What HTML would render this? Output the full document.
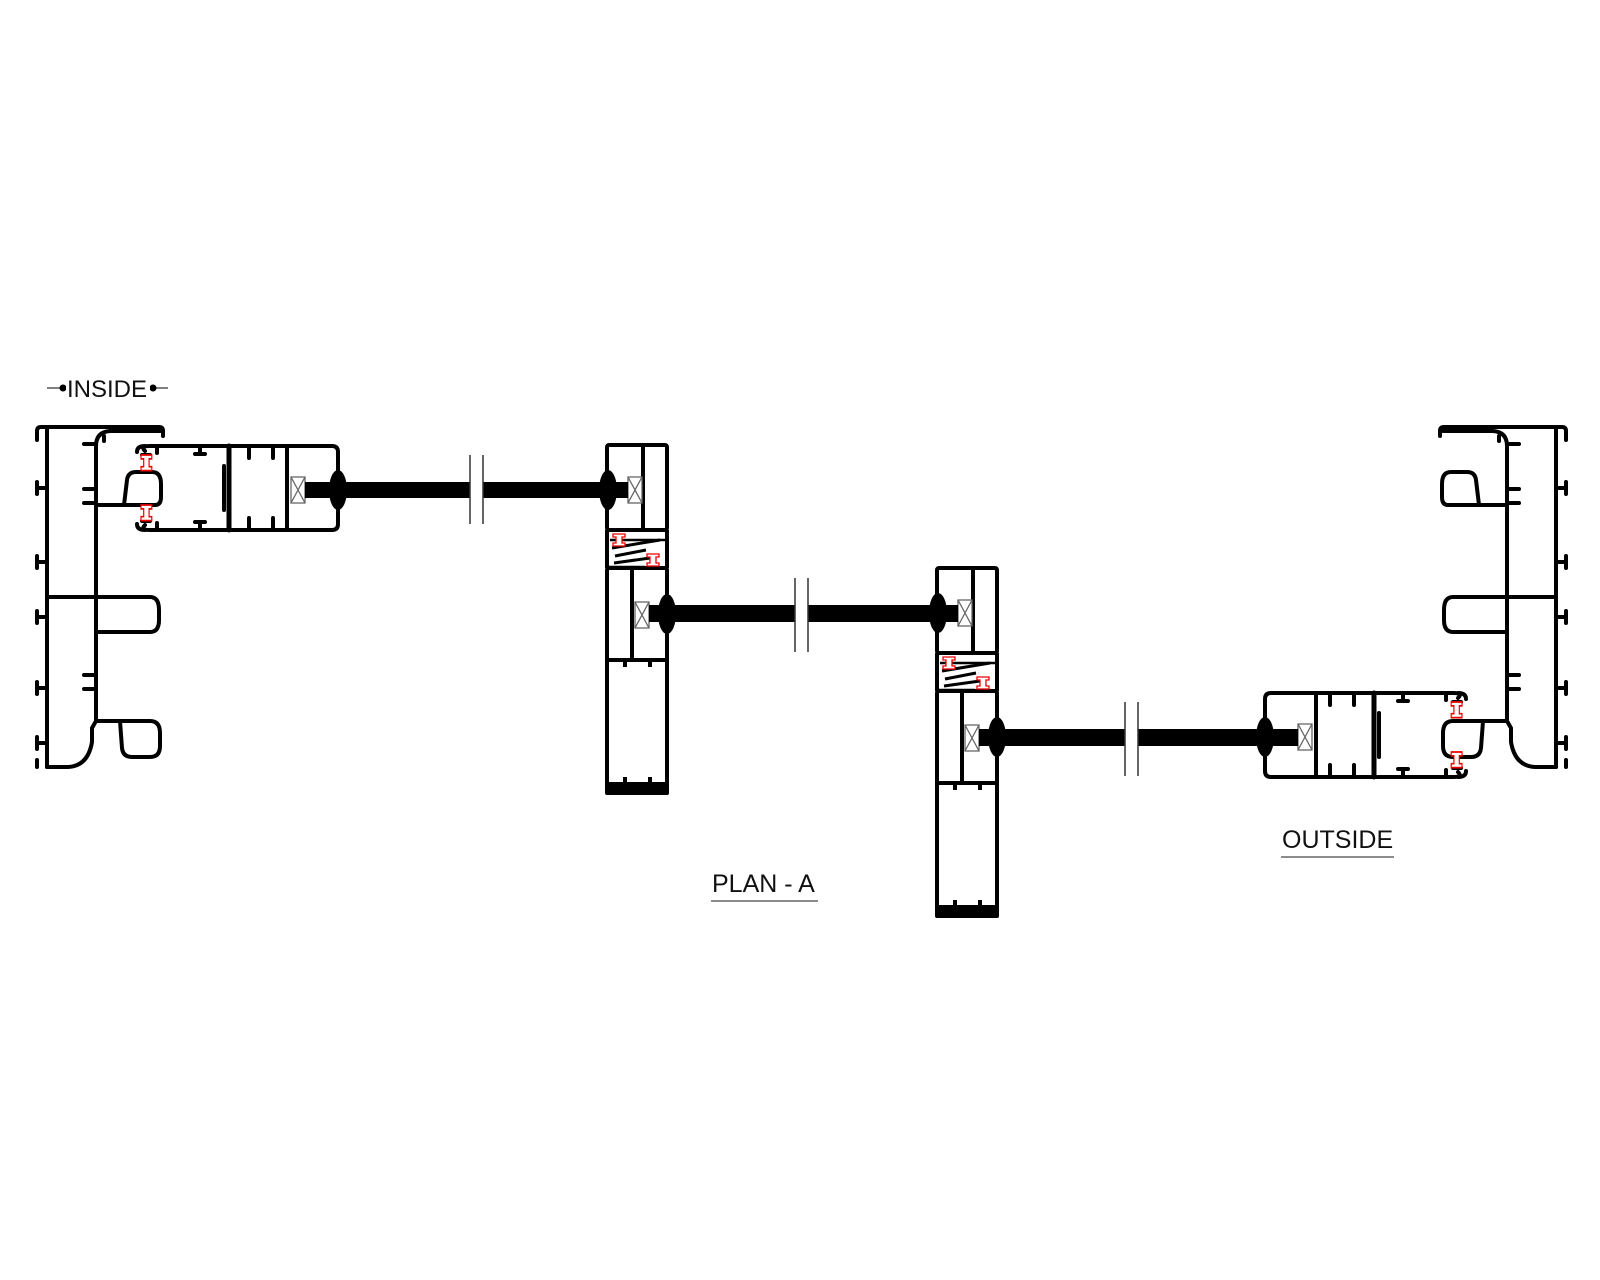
<!DOCTYPE html>
<html><head><meta charset="utf-8"><style>
html,body{margin:0;padding:0;background:#fff;}
svg{display:block;}
text{font-family:"Liberation Sans","DejaVu Sans",sans-serif;fill:#111;}
</style></head><body>
<svg width="1600" height="1280" viewBox="0 0 1600 1280" xmlns="http://www.w3.org/2000/svg">
<defs>
<g id="frame" fill="none" stroke="#000" stroke-width="4" stroke-linejoin="round" stroke-linecap="round">
  <line x1="47" y1="428" x2="47" y2="767"/>
  <path d="M37 440 L37 431 Q37 427 41 427 L159 427 Q163 427 163 431 L163 436"/>
  <path d="M104 441 L104 436"/>
  <path d="M96 720 L96 446 Q96 432 110 431 L160 431"/>
  <path d="M37 482 L37 494 M37 488 L47 488"/>
  <path d="M37 556 L37 568 M37 562 L47 562"/>
  <path d="M37 611 L37 623 M37 617 L47 617"/>
  <path d="M37 682 L37 694 M37 688 L47 688"/>
  <path d="M37 737 L37 749 M37 743 L47 743"/>
  <path d="M37 760 L37 767"/>
  <path d="M84 444 L96 444 M84 489 L96 489 M84 503 L96 503 M84 675 L96 675 M84 689 L96 689"/>
  <line x1="47" y1="597" x2="96" y2="597"/>
  <path d="M96 505 L155 505 Q161 505 161 497 L161 484 Q161 472 152 472 L136 472 Q128 472 127 480 L124 505"/>
  <path d="M96 597 L150 597 Q159 597 159 610 L159 620 Q159 632 150 632 L96 632"/>
  <path d="M96 721 L150 721 Q160 721 160 733 L160 746 Q160 757 150 757 L132 757 Q123 757 122 748 L120 721"/>
  <path d="M96 721 L92 728 L92 742 Q88 766 68 767 L47 767"/>
</g>

<g id="sash" fill="none" stroke="#000" stroke-width="4" stroke-linejoin="round" stroke-linecap="round">
  <path d="M145 451 Q140 446 150 446 L332 446 Q338 446 338 452 L338 524 Q338 530 332 530 L150 530 Q140 530 145 525"/>
  <path d="M137 452 Q137 446 145 446 M137 524 Q137 530 145 530"/>
  <path d="M142 455 L150 455 M142 521 L150 521"/>
  <path d="M157 447 L157 453 M157 529 L157 523"/>
  <path d="M200 447 L200 453 M195 454 L205 454 M200 529 L200 523 M195 522 L205 522"/>
  <line x1="229" y1="446" x2="229" y2="530" stroke-width="5"/>
  <path d="M224 466 L224 510"/>
  <line x1="287" y1="446" x2="287" y2="530"/>
  <path d="M249 447 L249 458 M273 447 L273 458 M249 529 L249 518 M273 529 L273 518"/>
</g>

<g id="mullion" stroke="#000" stroke-width="4" stroke-linejoin="round" fill="none">
  <rect x="607" y="445" width="60" height="85" rx="2"/>
  <line x1="643" y1="446" x2="643" y2="530"/>
  <rect x="607" y="568" width="60" height="224" rx="2"/>
  <line x1="632" y1="568" x2="632" y2="660"/>
  <line x1="607" y1="660" x2="667" y2="660"/>
  <rect x="607" y="784" width="60" height="9" fill="#000"/>
  <path d="M625 661 L625 667 M650 661 L650 667 M625 783 L625 777 M650 783 L650 777"/>
  <line x1="607" y1="530" x2="607" y2="568"/>
  <line x1="667" y1="530" x2="667" y2="568"/>
  <path d="M612 548 L660 540 M615 556 L646 550 M614 563 L650 558" stroke-width="3"/>
  <path d="M610 540 L666 540" stroke-width="2.5"/>
  <path d="M609 567 L645 567" stroke-width="2.5"/>
</g>

<g id="gasketX" fill="#fff" stroke="#666" stroke-width="1.3">
  <rect x="0" y="0" width="14" height="26"/>
  <path d="M0 0 L14 26 M14 0 L0 26"/>
</g>
<g id="ibeam" fill="#fff" stroke="#e00" stroke-width="1.3">
  <path d="M0 0 L12 0 L12 3 L9 3 L9 9 L12 9 L12 12 L0 12 L0 9 L3 9 L3 3 L0 3 Z"/>
</g>
</defs>

<line x1="47" y1="388" x2="168" y2="388" stroke="#555" stroke-width="1.5"/>
<circle cx="63" cy="388" r="3.5" fill="#000"/>
<circle cx="153" cy="388" r="3.5" fill="#000"/>
<rect x="66" y="374" width="84" height="28" fill="#fff"/>
<text x="67" y="397" font-size="24">INSIDE</text>

<use href="#frame"/>
<use href="#sash"/>
<use href="#ibeam" transform="translate(141,455) scale(0.9,1.3)"/>
<use href="#ibeam" transform="translate(141,505) scale(0.9,1.3)"/>
<use href="#gasketX" x="291" y="477"/>

<g transform="translate(1603,0) scale(-1,1)"><use href="#frame"/></g>
<g transform="translate(1603,247) scale(-1,1)">
  <use href="#sash"/>
  <use href="#ibeam" transform="translate(141,455) scale(0.9,1.3)"/>
  <use href="#ibeam" transform="translate(141,505) scale(0.9,1.3)"/>
  <use href="#gasketX" x="291" y="477"/>
</g>

<use href="#mullion"/>
<use href="#gasketX" x="628" y="477"/>
<use href="#gasketX" x="635" y="602"/>
<use href="#ibeam" transform="translate(613,534)"/>
<use href="#ibeam" transform="translate(647,554)"/>
<g transform="translate(330,123)">
  <use href="#mullion"/>
  <use href="#gasketX" x="628" y="477"/>
  <use href="#gasketX" x="635" y="602"/>
  <use href="#ibeam" transform="translate(613,534)"/>
  <use href="#ibeam" transform="translate(647,554)"/>
</g>

<rect x="305" y="482" width="323" height="16" fill="#000"/>
<rect x="470" y="470" width="13" height="40" fill="#fff"/>
<line x1="470" y1="455" x2="470" y2="524" stroke="#333" stroke-width="1.5"/>
<line x1="483" y1="455" x2="483" y2="524" stroke="#333" stroke-width="1.5"/>
<ellipse cx="338" cy="490" rx="9" ry="20" fill="#000"/>
<ellipse cx="608" cy="490" rx="9" ry="20" fill="#000"/>

<rect x="649" y="605" width="309" height="17" fill="#000"/>
<rect x="795" y="590" width="13" height="45" fill="#fff"/>
<line x1="795" y1="578" x2="795" y2="652" stroke="#333" stroke-width="1.5"/>
<line x1="808" y1="578" x2="808" y2="652" stroke="#333" stroke-width="1.5"/>
<ellipse cx="667" cy="614" rx="9" ry="20" fill="#000"/>
<ellipse cx="938" cy="613" rx="9" ry="20" fill="#000"/>

<rect x="979" y="729" width="319" height="17" fill="#000"/>
<rect x="1125" y="715" width="13" height="45" fill="#fff"/>
<line x1="1125" y1="702" x2="1125" y2="776" stroke="#333" stroke-width="1.5"/>
<line x1="1138" y1="702" x2="1138" y2="776" stroke="#333" stroke-width="1.5"/>
<ellipse cx="997" cy="737" rx="9" ry="20" fill="#000"/>
<ellipse cx="1265" cy="737" rx="9" ry="20" fill="#000"/>

<text x="712" y="892" font-size="25">PLAN - A</text>
<line x1="711" y1="901" x2="818" y2="901" stroke="#666" stroke-width="1.5"/>
<text x="1282" y="848" font-size="25">OUTSIDE</text>
<line x1="1281" y1="857" x2="1394" y2="857" stroke="#666" stroke-width="1.5"/>
</svg>
</body></html>
